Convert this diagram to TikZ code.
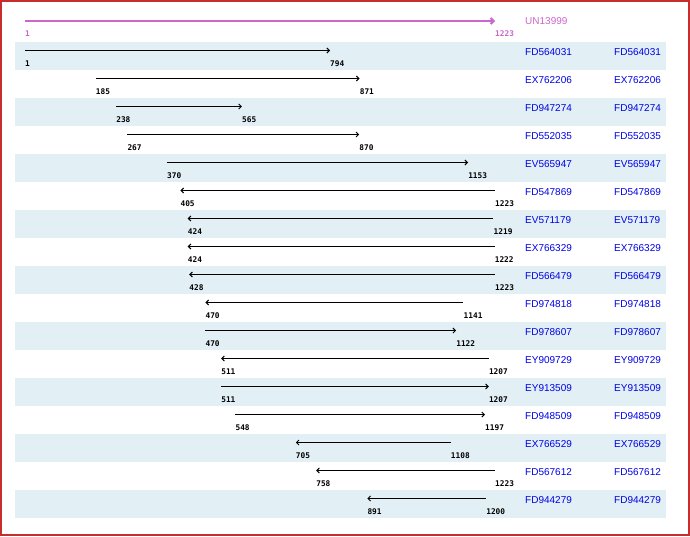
\documentclass[tikz,border=0pt]{standalone}
\usepackage{fontspec}
\usepackage{tikz}
\usetikzlibrary{arrows.meta}
\usepackage{xcolor}
\newfontfamily\numfont{DejaVu Sans Mono}
\newfontfamily\accfont{Liberation Sans}
\definecolor{framered}{RGB}{200,45,45}
\definecolor{bandblue}{RGB}{226,240,245}
\definecolor{linkblue}{RGB}{0,0,230}
\definecolor{querypink}{RGB}{204,102,204}

\begin{document}
\begin{tikzpicture}[x=1pt,y=-1pt]
    \tikzstyle{band}=[fill=bandblue,draw=none]
    \tikzstyle{fwd}=[draw,line width=1pt,-{Straight Barb[length=2.5pt,width=5pt]},black]
    \tikzstyle{rev}=[draw,line width=1pt,{Straight Barb[length=2.5pt,width=5pt]}-,black]
    \tikzstyle{query}=[draw,line width=2pt,-{Straight Barb[length=3pt,width=6pt]},querypink]
    \tikzstyle{num}=[anchor=west,inner sep=0pt,font=\numfont\bfseries\fontsize{7.8}{9}\selectfont]
    \tikzstyle{acc}=[anchor=west,inner sep=0pt,font=\accfont\fontsize{10}{12}\selectfont,text=linkblue]
    \useasboundingbox (0,0) rectangle (690,536);
    \draw[framered,line width=1.5pt] (0.75,0.75) rectangle (688.75,534.75);
    % shaded rows
    \fill[band] (15,42) rectangle (666,70);
    \fill[band] (15,98) rectangle (666,126);
    \fill[band] (15,154) rectangle (666,182);
    \fill[band] (15,210) rectangle (666,238);
    \fill[band] (15,266) rectangle (666,294);
    \fill[band] (15,322) rectangle (666,350);
    \fill[band] (15,378) rectangle (666,406);
    \fill[band] (15,434) rectangle (666,462);
    \fill[band] (15,490) rectangle (666,518);
    % accession names
    \node[acc,text=querypink] (q) at (525,21.5) {UN13999};
    \node[acc] (id1) at (525,52.5) {FD564031};
    \node[acc] (idb1) at (614,52.5) {FD564031};
    \node[acc] (id2) at (525,80.5) {EX762206};
    \node[acc] (idb2) at (614,80.5) {EX762206};
    \node[acc] (id3) at (525,108.5) {FD947274};
    \node[acc] (idb3) at (614,108.5) {FD947274};
    \node[acc] (id4) at (525,136.5) {FD552035};
    \node[acc] (idb4) at (614,136.5) {FD552035};
    \node[acc] (id5) at (525,164.5) {EV565947};
    \node[acc] (idb5) at (614,164.5) {EV565947};
    \node[acc] (id6) at (525,192.5) {FD547869};
    \node[acc] (idb6) at (614,192.5) {FD547869};
    \node[acc] (id7) at (525,220.5) {EV571179};
    \node[acc] (idb7) at (614,220.5) {EV571179};
    \node[acc] (id8) at (525,248.5) {EX766329};
    \node[acc] (idb8) at (614,248.5) {EX766329};
    \node[acc] (id9) at (525,276.5) {FD566479};
    \node[acc] (idb9) at (614,276.5) {FD566479};
    \node[acc] (id10) at (525,304.5) {FD974818};
    \node[acc] (idb10) at (614,304.5) {FD974818};
    \node[acc] (id11) at (525,332.5) {FD978607};
    \node[acc] (idb11) at (614,332.5) {FD978607};
    \node[acc] (id12) at (525,360.5) {EY909729};
    \node[acc] (idb12) at (614,360.5) {EY909729};
    \node[acc] (id13) at (525,388.5) {EY913509};
    \node[acc] (idb13) at (614,388.5) {EY913509};
    \node[acc] (id14) at (525,416.5) {FD948509};
    \node[acc] (idb14) at (614,416.5) {FD948509};
    \node[acc] (id15) at (525,444.5) {EX766529};
    \node[acc] (idb15) at (614,444.5) {EX766529};
    \node[acc] (id16) at (525,472.5) {FD567612};
    \node[acc] (idb16) at (614,472.5) {FD567612};
    \node[acc] (id17) at (525,500.5) {FD944279};
    \node[acc] (idb17) at (614,500.5) {FD944279};
    % alignments, x in sequence positions
    \begin{scope}[x=0.384615pt,xshift=24.615pt]
    \coordinate (a0) at (1,21);
    \coordinate (b0) at (1223,21);
    \draw[query] (a0) -- (b0);
    \node[num,text=querypink] (s0) at (1,34) {1};
    \node[num,text=querypink] (e0) at (1223,34) {1223};
    \coordinate (a1) at (1,50.5);
    \coordinate (b1) at (794,50.5);
    \draw[fwd] (a1) -- (b1);
    \node[num] (s1) at (1,64) {1};
    \node[num] (e1) at (794,64) {794};
    \coordinate (a2) at (185,78.5);
    \coordinate (b2) at (871,78.5);
    \draw[fwd] (a2) -- (b2);
    \node[num] (s2) at (185,92) {185};
    \node[num] (e2) at (871,92) {871};
    \coordinate (a3) at (238,106.5);
    \coordinate (b3) at (565,106.5);
    \draw[fwd] (a3) -- (b3);
    \node[num] (s3) at (238,120) {238};
    \node[num] (e3) at (565,120) {565};
    \coordinate (a4) at (267,134.5);
    \coordinate (b4) at (870,134.5);
    \draw[fwd] (a4) -- (b4);
    \node[num] (s4) at (267,148) {267};
    \node[num] (e4) at (870,148) {870};
    \coordinate (a5) at (370,162.5);
    \coordinate (b5) at (1153,162.5);
    \draw[fwd] (a5) -- (b5);
    \node[num] (s5) at (370,176) {370};
    \node[num] (e5) at (1153,176) {1153};
    \coordinate (a6) at (405,190.5);
    \coordinate (b6) at (1223,190.5);
    \draw[rev] (a6) -- (b6);
    \node[num] (s6) at (405,204) {405};
    \node[num] (e6) at (1223,204) {1223};
    \coordinate (a7) at (424,218.5);
    \coordinate (b7) at (1219,218.5);
    \draw[rev] (a7) -- (b7);
    \node[num] (s7) at (424,232) {424};
    \node[num] (e7) at (1219,232) {1219};
    \coordinate (a8) at (424,246.5);
    \coordinate (b8) at (1222,246.5);
    \draw[rev] (a8) -- (b8);
    \node[num] (s8) at (424,260) {424};
    \node[num] (e8) at (1222,260) {1222};
    \coordinate (a9) at (428,274.5);
    \coordinate (b9) at (1223,274.5);
    \draw[rev] (a9) -- (b9);
    \node[num] (s9) at (428,288) {428};
    \node[num] (e9) at (1223,288) {1223};
    \coordinate (a10) at (470,302.5);
    \coordinate (b10) at (1141,302.5);
    \draw[rev] (a10) -- (b10);
    \node[num] (s10) at (470,316) {470};
    \node[num] (e10) at (1141,316) {1141};
    \coordinate (a11) at (470,330.5);
    \coordinate (b11) at (1122,330.5);
    \draw[fwd] (a11) -- (b11);
    \node[num] (s11) at (470,344) {470};
    \node[num] (e11) at (1122,344) {1122};
    \coordinate (a12) at (511,358.5);
    \coordinate (b12) at (1207,358.5);
    \draw[rev] (a12) -- (b12);
    \node[num] (s12) at (511,372) {511};
    \node[num] (e12) at (1207,372) {1207};
    \coordinate (a13) at (511,386.5);
    \coordinate (b13) at (1207,386.5);
    \draw[fwd] (a13) -- (b13);
    \node[num] (s13) at (511,400) {511};
    \node[num] (e13) at (1207,400) {1207};
    \coordinate (a14) at (548,414.5);
    \coordinate (b14) at (1197,414.5);
    \draw[fwd] (a14) -- (b14);
    \node[num] (s14) at (548,428) {548};
    \node[num] (e14) at (1197,428) {1197};
    \coordinate (a15) at (705,442.5);
    \coordinate (b15) at (1108,442.5);
    \draw[rev] (a15) -- (b15);
    \node[num] (s15) at (705,456) {705};
    \node[num] (e15) at (1108,456) {1108};
    \coordinate (a16) at (758,470.5);
    \coordinate (b16) at (1223,470.5);
    \draw[rev] (a16) -- (b16);
    \node[num] (s16) at (758,484) {758};
    \node[num] (e16) at (1223,484) {1223};
    \coordinate (a17) at (891,498.5);
    \coordinate (b17) at (1200,498.5);
    \draw[rev] (a17) -- (b17);
    \node[num] (s17) at (891,512) {891};
    \node[num] (e17) at (1200,512) {1200};
    \end{scope}
\end{tikzpicture}
\end{document}
